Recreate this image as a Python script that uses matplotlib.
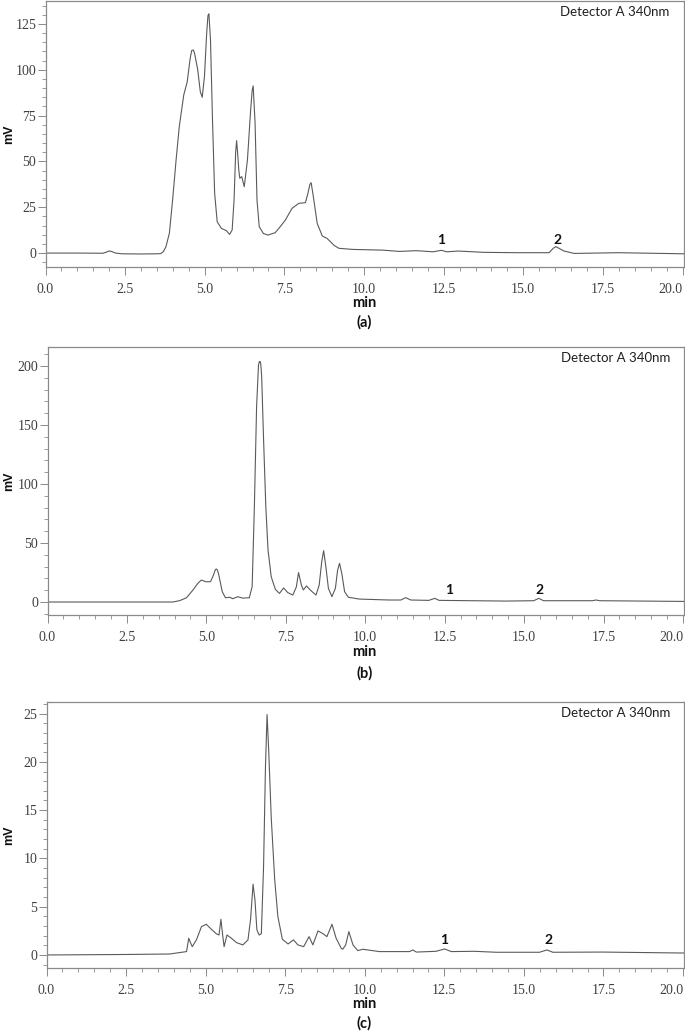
import matplotlib
matplotlib.use("Agg")
import matplotlib.pyplot as plt
from matplotlib.ticker import MultipleLocator

# ---------------- data ----------------
time_a = [0.0, 1.0, 1.8, 1.93, 2.0, 2.08, 2.2, 2.4, 3.0, 3.5, 3.62, 3.7, 3.78, 3.89, 3.99,
          4.10, 4.20, 4.34, 4.45, 4.54, 4.59, 4.64, 4.68, 4.78, 4.86, 4.92, 4.99, 5.06,
          5.10, 5.13, 5.18, 5.24, 5.31, 5.39, 5.52, 5.68, 5.78, 5.86, 5.92, 5.97, 6.00,
          6.03, 6.07, 6.10, 6.16, 6.24, 6.34, 6.44, 6.49, 6.52, 6.58, 6.64, 6.71, 6.84,
          6.98, 7.21, 7.37, 7.53, 7.74, 7.95, 8.16, 8.24, 8.30, 8.34, 8.41, 8.53, 8.69,
          8.84, 9.06, 9.21, 9.64, 10.59, 11.11, 11.64, 12.17, 12.43, 12.59, 12.96, 13.75,
          14.80, 15.81, 15.94, 16.02, 16.10, 16.28, 16.60, 17.97, 20.05]
mv_a = [0.0, 0.0, -0.1, 0.6, 1.2, 0.8, 0.0, -0.4, -0.5, -0.4, -0.3, 0.8, 3.4, 10.9, 28.9,
        50.8, 69.0, 86.2, 93.5, 106.0, 110.5, 110.8, 109.0, 99.9, 88.0, 85.0, 96.2, 119.9,
        129.5, 130.5, 116.3, 74.4, 32.6, 17.1, 13.5, 12.2, 10.2, 12.6, 28.9, 55.0, 61.3,
        55.0, 45.0, 40.8, 41.7, 36.2, 50.8, 78.0, 89.0, 91.2, 70.8, 28.9, 14.4, 10.7,
        9.8, 11.1, 14.4, 18.0, 24.4, 27.1, 27.5, 32.6, 37.5, 38.4, 30.7, 16.2, 9.3,
        8.0, 4.2, 2.6, 2.0, 1.6, 0.9, 1.3, 0.7, 1.5, 0.7, 1.1, 0.4,
        0.2, 0.2, 2.6, 3.5, 2.8, 1.1, -0.2, 0.2, -0.4]

time_b = [0.0, 2.0, 3.95, 4.16, 4.37, 4.58, 4.73, 4.84, 4.98, 5.13, 5.21, 5.28, 5.31, 5.35,
          5.39, 5.50, 5.60, 5.73, 5.83, 5.99, 6.14, 6.35, 6.44, 6.51, 6.58, 6.64, 6.67,
          6.69, 6.71, 6.74, 6.80, 6.87, 6.94, 7.04, 7.17, 7.30, 7.43, 7.56, 7.72, 7.83,
          7.90, 7.99, 8.05, 8.15, 8.29, 8.45, 8.55, 8.63, 8.69, 8.76, 8.84, 8.95, 9.06,
          9.13, 9.19, 9.26, 9.35, 9.47, 9.81, 10.75, 11.12, 11.27, 11.43, 12.0, 12.19,
          12.32, 13.37, 14.42, 15.30, 15.46, 15.61, 17.15, 17.26, 17.38, 20.05]
mv_b = [0.0, 0.0, 0.0, 1.2, 3.5, 10.2, 15.8, 18.6, 17.2, 17.2, 22.0, 27.2, 28.0, 27.0,
        22.9, 8.7, 3.6, 4.0, 2.8, 4.5, 3.3, 3.6, 13.0, 80.8, 165.5, 200.8, 203.7,
        203.7, 202.0, 191.0, 137.3, 80.8, 44.0, 21.4, 10.7, 7.3, 11.9, 8.0, 5.9, 12.7,
        24.9, 14.4, 10.2, 13.6, 9.6, 5.9, 14.4, 34.2, 43.5, 29.9, 11.6, 4.5, 11.6,
        27.1, 32.8, 24.3, 8.7, 4.0, 2.5, 1.7, 1.7, 3.7, 1.7, 1.4, 3.1,
        1.4, 1.1, 0.8, 1.1, 3.1, 1.1, 1.1, 1.7, 1.1, 0.5]

time_c = [0.0, 2.5, 3.87, 4.40, 4.47, 4.52, 4.58, 4.71, 4.87, 5.02, 5.18, 5.34, 5.42,
          5.48, 5.53, 5.58, 5.67, 5.81, 5.97, 6.17, 6.33, 6.41, 6.49, 6.55, 6.61, 6.68,
          6.75, 6.82, 6.88, 6.93, 6.98, 7.06, 7.17, 7.27, 7.41, 7.59, 7.76, 7.90, 8.08,
          8.25, 8.37, 8.53, 8.69, 8.81, 8.97, 9.10, 9.26, 9.31, 9.40, 9.50, 9.63, 9.78,
          9.94, 10.46, 11.41, 11.51, 11.62, 12.24, 12.51, 12.72, 13.45, 14.13, 15.49,
          15.72, 15.91, 17.48, 20.05]
mv_c = [0.0, 0.05, 0.1, 0.35, 1.73, 1.3, 0.86, 1.56, 2.94, 3.18, 2.66, 2.18, 2.07,
        3.70, 2.2, 0.86, 2.07, 1.73, 1.28, 1.04, 1.56, 3.63, 7.33, 5.7, 2.6, 2.07,
        2.2, 9.16, 19.5, 24.9, 21.3, 14.3, 7.8, 3.97, 1.63, 1.14, 1.56, 1.04, 0.86,
        1.9, 1.04, 2.49, 2.2, 1.9, 3.18, 1.73, 0.69, 0.6, 1.04, 2.42, 1.04, 0.45,
        0.59, 0.35, 0.35, 0.52, 0.3, 0.38, 0.62, 0.35, 0.38, 0.28, 0.28,
        0.52, 0.28, 0.3, 0.2]

panel_names = ["(a)", "(b)", "(c)"]
detector_label = "Detector A 340nm"
peak_labels = ["1", "2"]
peak_pos_a = [12.42, 16.07]
peak_pos_b = [12.65, 15.48]
peak_pos_c = [12.50, 15.77]
x_ticks = [0.0, 2.5, 5.0, 7.5, 10.0, 12.5, 15.0, 17.5, 20.0]
y_ticks_a = [0, 25, 50, 75, 100, 125]
y_ticks_b = [0, 50, 100, 150, 200]
y_ticks_c = [0, 5, 10, 15, 20, 25]

# ---------------- figure ----------------
W, H = 685, 1032
fig = plt.figure(figsize=(W / 100, H / 100), dpi=100)


def rect(l, r, t, b):
    return [l / W, 1 - b / H, (r - l) / W, (b - t) / H]


specs = [
    dict(rect=rect(45.5, 683.5, 1, 267), t=time_a, v=mv_a, yt=y_ticks_a, ymin=5,
         ylim=(-7.6, 137.5), peaks=peak_pos_a, py=7.0, xlab_y=303, name_y=322),
    dict(rect=rect(47.5, 684, 347, 615), t=time_b, v=mv_b, yt=y_ticks_b, ymin=10,
         ylim=(-11, 216), peaks=peak_pos_b, py=10.2, xlab_y=652, name_y=673),
    dict(rect=rect(46.5, 684, 702, 968), t=time_c, v=mv_c, yt=y_ticks_c, ymin=1,
         ylim=(-1.35, 26.2), peaks=peak_pos_c, py=1.5, xlab_y=1004, name_y=1023),
]

spine_col = "#8a8a8a"
tick_col = "#404040"
line_col = "#5a5a5a"

for s, name in zip(specs, panel_names):
    ax = fig.add_axes(s["rect"])
    ax.plot(s["t"], s["v"], color=line_col, lw=0.8)
    ax.set_xlim(0, 20.03)
    ax.set_ylim(*s["ylim"])
    ax.set_xticks(x_ticks)
    ax.set_xticklabels([f"{x:.1f}" for x in x_ticks])
    ax.set_yticks(s["yt"])
    ax.set_yticklabels([str(y) for y in s["yt"]])
    ax.xaxis.set_minor_locator(MultipleLocator(0.5))
    ax.yaxis.set_minor_locator(MultipleLocator(s["ymin"]))
    for sp in ax.spines.values():
        sp.set_color(spine_col)
        sp.set_linewidth(0.9)
    ax.tick_params(axis="both", which="major", length=5.6, width=0.7, color=spine_col,
                   labelcolor=tick_col, labelsize=10)
    ax.tick_params(axis="both", which="minor", length=2.8, width=0.6, color=spine_col)
    ax.tick_params(axis="x", which="major", pad=6)
    ax.tick_params(axis="y", which="major", pad=1)
    for lab in ax.get_xticklabels() + ax.get_yticklabels():
        lab.set_fontfamily("Liberation Serif")
    ax.get_xticklabels()[-1].set_horizontalalignment("right")
    top_px = (1 - s["rect"][1] - s["rect"][3]) * H
    bot_px = (1 - s["rect"][1]) * H
    fig.text(9 / W, 1 - (top_px + bot_px) / 2 / H, "mV", rotation=90, ha="center",
             va="center", fontfamily="Liberation Sans", fontweight="bold", fontsize=9,
             color="#101010")
    ax.text(1 - 14 / (s["rect"][2] * W), 1 - 11 / (s["rect"][3] * H), detector_label,
            transform=ax.transAxes, ha="right", va="center", fontfamily="Lato",
            fontsize=9.5, color="#202020")
    for lab, px in zip(peak_labels, s["peaks"]):
        ax.text(px, s["py"], lab, ha="center", va="center", fontfamily="Lato",
                fontweight="bold", fontsize=10, color="#101010")
    fig.text(364 / W, 1 - s["xlab_y"] / H, "min", ha="center", va="center",
             fontfamily="Lato", fontweight="bold", fontsize=10.5, color="#101010")
    fig.text(364.5 / W, 1 - s["name_y"] / H, name, ha="center", va="center",
             fontfamily="Lato", fontweight="bold", fontsize=10.5, color="#101010")

fig.savefig("out.png", dpi=100)
